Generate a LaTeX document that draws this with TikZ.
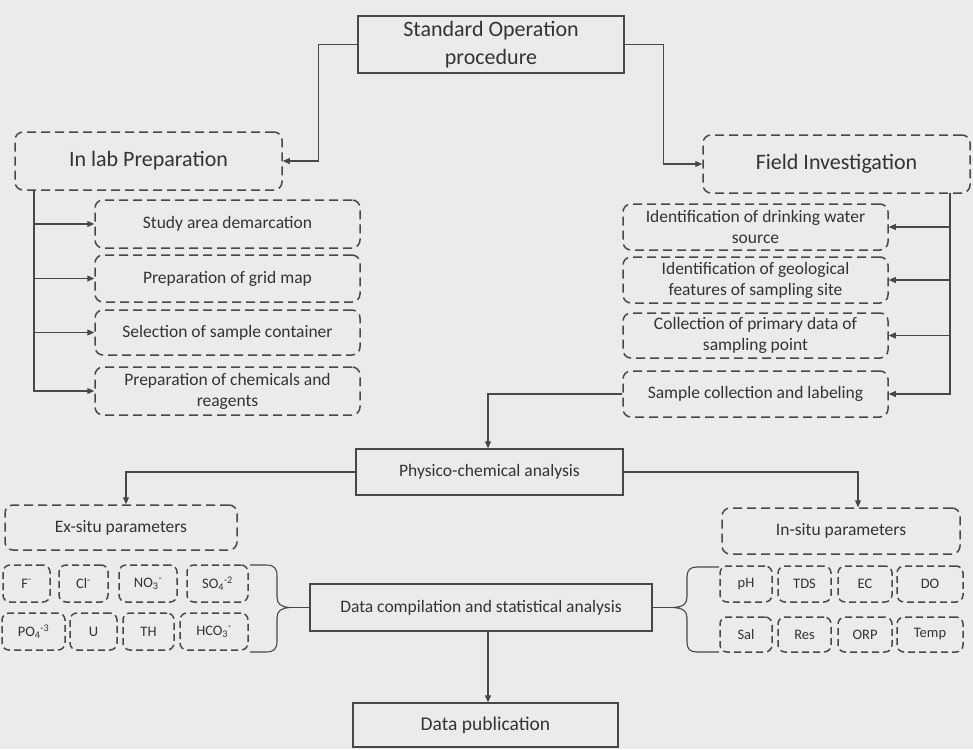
\documentclass[tikz,border=0pt]{standalone}
\usepackage{fontspec}
\setmainfont{Carlito}
\usetikzlibrary{arrows.meta}
\definecolor{bg}{HTML}{EBEBEB}
\definecolor{lc}{HTML}{484848}
\definecolor{tc}{HTML}{333333}
\newcommand{\bigf}{\fontsize{22}{28}\selectfont}
\newcommand{\midf}{\fontsize{17.5}{21}\selectfont}
\newcommand{\smf}{\fontsize{14.5}{17}\selectfont}
\tikzset{
  solidbox/.style={draw=lc, line width=1.3pt, rectangle, align=center, text=tc, inner sep=0pt},
  dbox/.style={draw=lc, line width=1.5pt, dash pattern=on 9pt off 5pt, rounded corners=8pt, align=center, text=tc, inner sep=0pt},
  sbox/.style={dbox, dash pattern=on 7pt off 4pt, rounded corners=7pt, font=\smf},
  arr/.style={draw=lc, line width=1.1pt, -{Triangle[length=7pt,width=6pt]}},
  ln/.style={draw=lc, line width=1.1pt},
  bigt/.style={font=\bigf},
  midt/.style={font=\midf},
}
\begin{document}
\begin{tikzpicture}[x=1pt,y=-1pt]
\fill[bg] (0,0) rectangle (973,749);
\useasboundingbox (0,0) rectangle (973,749);

% main boxes
\node[solidbox, bigt, minimum width=266pt, minimum height=57pt] (sop) at (491,44.5) {Standard Operation\\ procedure};
\node[dbox, bigt, minimum width=267pt, minimum height=58pt] (inlab) at (148.5,161) {In lab Preparation};
\node[dbox, bigt, minimum width=267pt, minimum height=58pt] (field) at (836.5,164) {Field Investigation};

% in lab sub boxes
\node[dbox, midt, minimum width=265pt, minimum height=48pt] (study) at (227.5,224) {Study area demarcation};
\node[dbox, midt, minimum width=265pt, minimum height=47pt] (grid) at (227.5,278.5) {Preparation of grid map};
\node[dbox, midt, minimum width=265pt, minimum height=45pt] (select) at (227.5,332.5) {Selection of sample container};
\node[dbox, midt, minimum width=265pt, minimum height=48pt] (chem) at (227.5,391) {Preparation of chemicals and\\ reagents};

% field sub boxes
\node[dbox, midt, minimum width=265pt, minimum height=46pt] (idw) at (755.5,227) {Identification of drinking water\\ source};
\node[dbox, midt, minimum width=265pt, minimum height=46pt] (geo) at (755.5,280) {Identification of geological\\ features of sampling site};
\node[dbox, midt, minimum width=265pt, minimum height=45pt] (prim) at (755.5,335.5) {Collection of primary data of\\ sampling point};
\node[dbox, midt, minimum width=265pt, minimum height=46pt] (samp) at (755.5,394) {Sample collection and labeling};

% analysis
\node[solidbox, midt, minimum width=267pt, minimum height=46pt] (phys) at (489.5,472) {Physico-chemical analysis};
\node[dbox, midt, minimum width=232pt, minimum height=45pt] (exsitu) at (121,527.5) {Ex-situ parameters};
\node[dbox, midt, minimum width=238pt, minimum height=46pt] (insitu) at (841,531) {In-situ parameters};
\node[solidbox, midt, minimum width=342pt, minimum height=47pt] (dcomp) at (481,607.5) {Data compilation and statistical analysis};
\node[solidbox, font=\fontsize{19.5}{23}\selectfont, minimum width=265pt, minimum height=44pt] (dpub) at (485.5,725) {Data publication};

% ex-situ small boxes
\node[sbox, minimum width=47pt, minimum height=37pt] (pF) at (26.5,583.5) {F\textsuperscript{-}};
\node[sbox, minimum width=49pt, minimum height=37pt] (pCl) at (83.5,583.5) {Cl\textsuperscript{-}};
\node[sbox, minimum width=58pt, minimum height=37pt] (pNO) at (148,583.5) {NO\textsubscript{3}\textsuperscript{-}};
\node[sbox, minimum width=61pt, minimum height=37pt] (pSO) at (217.5,583.5) {SO\textsubscript{4}\textsuperscript{-2}};
\node[sbox, minimum width=63pt, minimum height=37pt] (pPO) at (33.5,631.5) {PO\textsubscript{4}\textsuperscript{-3}};
\node[sbox, minimum width=47pt, minimum height=37pt] (pU) at (93.5,631.5) {U};
\node[sbox, minimum width=51pt, minimum height=37pt] (pTH) at (148.5,631.5) {TH};
\node[sbox, minimum width=68pt, minimum height=37pt] (pHCO) at (214,631.5) {HCO\textsubscript{3}\textsuperscript{-}};

% in-situ small boxes
\node[sbox, minimum width=52pt, minimum height=36pt] (qpH) at (746,584) {pH};
\node[sbox, minimum width=53pt, minimum height=36pt] (qTDS) at (804.5,584) {TDS};
\node[sbox, minimum width=54pt, minimum height=36pt] (qEC) at (865,584) {EC};
\node[sbox, minimum width=66pt, minimum height=36pt] (qDO) at (930,584) {DO};
\node[sbox, minimum width=52pt, minimum height=35pt] (qSal) at (746,634.5) {Sal};
\node[sbox, minimum width=53pt, minimum height=35pt] (qRes) at (804.5,634.5) {Res};
\node[sbox, minimum width=54pt, minimum height=35pt] (qORP) at (865,634.5) {ORP};
\node[sbox, minimum width=66pt, minimum height=35pt] (qTemp) at (930,634.5) {Temp};

% connectors from SOP
\draw[arr] (sop.west) -- ++(-39,0) |- (inlab.east);
\draw[arr] (sop.east) -- ++(39,0) |- (field.west);

% in lab trunk
\coordinate (tl) at (34,190);
\draw[arr] (tl) |- (study.west);
\draw[arr] (tl) |- (grid.west);
\draw[arr] (tl) |- (select.west);
\draw[arr] (tl) |- (chem.west);

% field trunk
\coordinate (tr) at (950,193);
\draw[arr] (tr) |- (idw.east);
\draw[arr] (tr) |- (geo.east);
\draw[arr] (tr) |- (prim.east);
\draw[arr] (tr) |- (samp.east);

% to analysis
\draw[arr] (samp.west) -| ([xshift=-1.5pt]phys.north);
\draw[arr] (phys.west) -| ([xshift=5pt]exsitu.north);
\draw[arr] (phys.east) -| ([xshift=17pt]insitu.north);
\coordinate (dtop) at (488,631);
\draw[arr] (dtop) -- (dtop |- dpub.north);

% braces
\coordinate (lbt) at (290,607.5);
\draw[ln] (250,565) -- (266,565) .. controls (274,565) and (277,568) .. (277,576) -- (277,597)
  .. controls (277,604) and (281,607) .. (lbt)
  .. controls (281,608) and (277,611) .. (277,618) -- (277,641)
  .. controls (277,649) and (274,652) .. (266,652) -- (250,652);
\draw[ln] (lbt) -- (dcomp.west);
\coordinate (rbt) at (673,607.5);
\draw[ln] (719,567) -- (697,567) .. controls (690,567) and (687,570) .. (687,577) -- (687,597)
  .. controls (687,604) and (683,607) .. (rbt)
  .. controls (683,608) and (687,611) .. (687,618) -- (687,642)
  .. controls (687,649) and (690,652) .. (697,652) -- (719,652);
\draw[ln] (dcomp.east) -- (rbt);
\end{tikzpicture}
\end{document}
